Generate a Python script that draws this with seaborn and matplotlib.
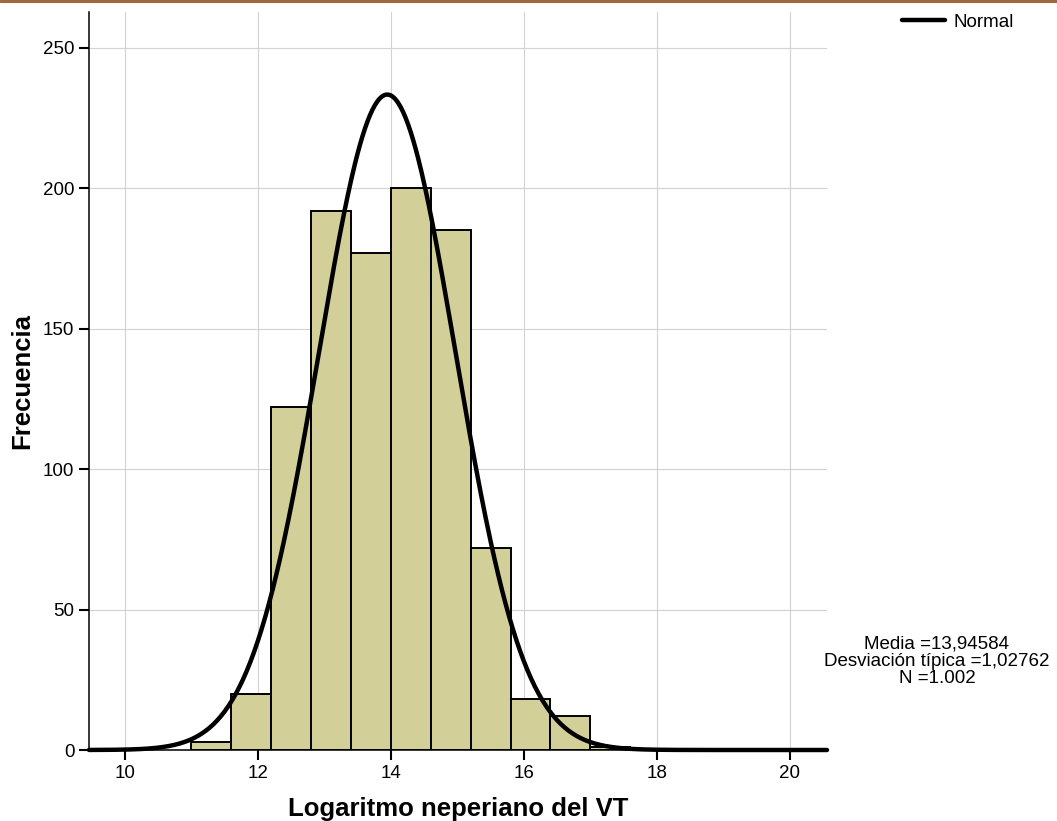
import numpy as np
import pandas as pd
import matplotlib
matplotlib.use("Agg")
import matplotlib.pyplot as plt
from matplotlib.lines import Line2D
import seaborn as sns

# Histogram of ln(VT): bin edges and observed counts per bin
bin_edges = [11.0, 11.6, 12.2, 12.8, 13.4, 14.0, 14.6, 15.2, 15.8, 16.4, 17.0, 17.6]
counts = [3, 20, 122, 192, 177, 200, 185, 72, 18, 12, 1]

# Summary statistics of the sample
media = 13.94584
desv_tipica = 1.02762
n_total = 1002

x_ticks = [10, 12, 14, 16, 18, 20]
y_ticks = [0, 50, 100, 150, 200, 250]

sns.set_theme(style="white")
plt.rcParams["font.family"] = ["Liberation Sans", "DejaVu Sans"]
plt.rcParams["text.color"] = "black"

fig = plt.figure(figsize=(10.57, 8.21), dpi=100)
ax = fig.add_axes([89 / 1057, 71 / 821, (827 - 89) / 1057, (750 - 12) / 821])

centers = [(a + b) / 2 for a, b in zip(bin_edges[:-1], bin_edges[1:])]
df = pd.DataFrame({"valor": centers, "frecuencia": counts})

sns.histplot(data=df, x="valor", weights="frecuencia", bins=bin_edges,
             color="#D3CF99", alpha=1.0, edgecolor="black", linewidth=1.4,
             ax=ax, zorder=2)

# Fitted normal curve scaled to counts
bin_w = bin_edges[1] - bin_edges[0]
xs = np.linspace(9.46, 20.56, 600)
ys = n_total * bin_w * np.exp(-0.5 * ((xs - media) / desv_tipica) ** 2) / (desv_tipica * np.sqrt(2 * np.pi))
curve = pd.DataFrame({"x": xs, "y": ys})
sns.lineplot(data=curve, x="x", y="y", color="black", linewidth=3.2, ax=ax,
             zorder=3, clip_on=False)

ax.set_xlim(9.46, 20.56)
ax.set_ylim(0, 262.8)
ax.set_xticks(x_ticks)
ax.set_yticks(y_ticks)
ax.set_xticklabels([str(t) for t in x_ticks])
ax.set_yticklabels([str(t) for t in y_ticks])

ax.grid(True, color="#d2d2d2", linewidth=0.8)
ax.set_axisbelow(True)
for side in ["top", "right"]:
    ax.spines[side].set_visible(False)
for side in ["left", "bottom"]:
    ax.spines[side].set_color("black")
    ax.spines[side].set_linewidth(1.1)

ax.tick_params(axis="both", which="major", direction="out", length=7.5, width=1.5,
               color="black", labelsize=13.5, labelcolor="black", pad=3,
               bottom=True, left=True)

ax.set_xlabel("Logaritmo neperiano del VT", fontsize=18.5, fontweight="bold",
              color="black", labelpad=11)
ax.set_ylabel("Frecuencia", fontsize=18.5, fontweight="bold", color="black",
              labelpad=6)

# Legend for the normal curve
handle = Line2D([0], [0], color="black", linewidth=3.2)
leg = fig.legend([handle], ["Normal"], loc="center left",
                 bbox_to_anchor=(902 / 1057, 1 - 22 / 821), bbox_transform=fig.transFigure,
                 frameon=False, fontsize=13.5, handlelength=2.3, handletextpad=0.45,
                 borderpad=0, borderaxespad=0)
for t in leg.get_texts():
    t.set_color("black")

# Summary statistics block
fig.text(937 / 1057, 1 - 661 / 821,
         f"Media ={media:.5f}".replace(".", ",") + "\n"
         + f"Desviación típica ={desv_tipica:.5f}".replace(".", ",") + "\n"
         + "N =" + f"{n_total:,}".replace(",", "."),
         ha="center", va="center", fontsize=13.5, linespacing=1.0, color="black")

# Thin brown band along the top edge
fig.add_artist(Line2D([0, 1], [1 - 1.5 / 821, 1 - 1.5 / 821], transform=fig.transFigure,
                      color="#A0693A", linewidth=2.2))

fig.savefig("out.png", dpi=100, facecolor="white")
